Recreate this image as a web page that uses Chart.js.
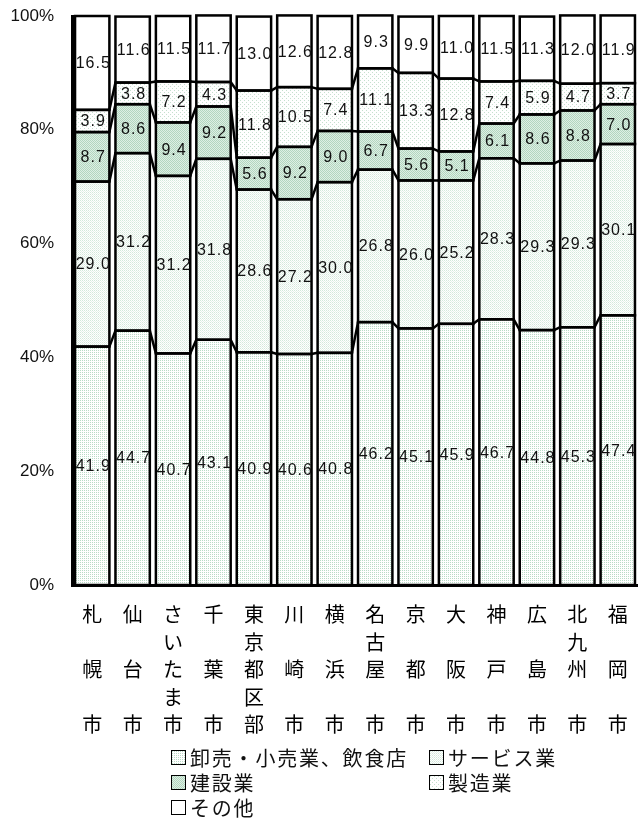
<!DOCTYPE html>
<html>
<head>
<meta charset="utf-8">
<script src="https://cdn.jsdelivr.net/npm/chart.js@4"></script>
<style>
  body { margin: 0; background: #fff; }
  #wrap { position: relative; width: 638px; height: 818px; }
  #legend { position: absolute; left: 0; top: 745px; width: 638px; }
  .li { position: absolute; height: 25px; display: flex; align-items: center;
        font: 20px "Noto Sans CJK JP", sans-serif; letter-spacing: 1.8px; color: #111; white-space: nowrap; }
  .sw { width: 13px; height: 13px; border: 1.5px solid #000; margin-right: 4px; }
</style>
</head>
<body>
<div id="wrap">
  <canvas id="c" width="638" height="745"></canvas>
  <div id="legend"></div>
</div>
<script>
// cities, one char per line (blank lines keep rows aligned)
const cities = [
    ['札','','幌','','市'], ['仙','','台','','市'], ['さ','い','た','ま','市'],
    ['千','','葉','','市'], ['東','京','都','区','部'], ['川','','崎','','市'],
    ['横','','浜','','市'], ['名','古','屋','','市'], ['京','','都','','市'],
    ['大','','阪','','市'], ['神','','戸','','市'], ['広','','島','','市'],
    ['北','九','州','','市'], ['福','','岡','','市']
]

const seriesNames = ['卸売・小売業、飲食店', 'サービス業', '建設業', '製造業', 'その他']

const wholesale    = [41.9, 44.7, 40.7, 43.1, 40.9, 40.6, 40.8, 46.2, 45.1, 45.9, 46.7, 44.8, 45.3, 47.4]
const service      = [29.0, 31.2, 31.2, 31.8, 28.6, 27.2, 30.0, 26.8, 26.0, 25.2, 28.3, 29.3, 29.3, 30.1]
const construction = [8.7, 8.6, 9.4, 9.2, 5.6, 9.2, 9.0, 6.7, 5.6, 5.1, 6.1, 8.6, 8.8, 7.0]
const manufacturing= [3.9, 3.8, 7.2, 4.3, 11.8, 10.5, 7.4, 11.1, 13.3, 12.8, 7.4, 5.9, 4.7, 3.7]
const others       = [16.5, 11.6, 11.5, 11.7, 13.0, 12.6, 12.8, 9.3, 9.9, 11.0, 11.5, 11.3, 12.0, 11.9]

const yTicks = [0, 20, 40, 60, 80, 100]

// dotted fills like the original
function tile(size, bg, dots){
    let t = document.createElement('canvas')
    t.width = size; t.height = size
    let g = t.getContext('2d')
    g.fillStyle = bg; g.fillRect(0, 0, size, size)
    for(let d of dots){
        g.fillStyle = d[2]; g.fillRect(d[0], d[1], 1, 1)
    }
    return t
}
const tiles = [
    tile(2, '#ffffff', [[0,0,'#b9dcc6']]),
    tile(2, '#ffffff', [[0,0,'#d3e9db'],[1,1,'#e6f2ea']]),
    tile(2, '#deefe4', [[0,0,'#b2d6bf'],[1,1,'#b2d6bf']]),
    tile(4, '#ffffff', [[0,0,'#c5e0ce'],[2,2,'#c5e0ce']]),
    tile(1, '#ffffff', [])
]
const ctx = document.getElementById('c').getContext('2d')
const fills = tiles.map(t => ctx.createPattern(t, 'repeat'))

const values = [wholesale, service, construction, manufacturing, others]

// bar outlines, series lines and value labels
const decorate = {
    id: 'decorate',
    afterDatasetsDraw(chart){
        let c = chart.ctx
        let metas = values.map((v, i) => chart.getDatasetMeta(i))
        c.save()
        c.strokeStyle = '#000'
        c.lineWidth = 2.5
        for(let m of metas){
            for(let el of m.data){
                let p = el.getProps(['x','y','base','width'], true)
                c.strokeRect(p.x - p.width/2, p.y, p.width, p.base - p.y)
            }
        }
        // series lines
        for(let d = 0; d < metas.length - 1; d++){
            let els = metas[d].data
            c.beginPath()
            for(let i = 0; i < els.length - 1; i++){
                let a = els[i].getProps(['x','y','width'], true)
                let b = els[i+1].getProps(['x','y','width'], true)
                c.moveTo(a.x + a.width/2, a.y)
                c.lineTo(b.x - b.width/2, b.y)
            }
            c.stroke()
        }
        c.fillStyle = '#111'
        c.font = '16px "Liberation Sans", Arial, sans-serif'
        c.letterSpacing = '1px'
        c.textAlign = 'center'
        c.textBaseline = 'middle'
        metas.forEach((m, d) => {
            m.data.forEach((el, i) => {
                let p = el.getProps(['x','y','base'], true)
                c.fillText(values[d][i].toFixed(1), p.x + 1, (p.y + p.base)/2 + 1)
            })
        })
        c.restore()
    }
}

const chart = new Chart(ctx, {
    type: 'bar',
    data: {
        labels: cities,
        datasets: values.map((v, i) => ({
            label: seriesNames[i],
            data: v,
            backgroundColor: fills[i],
            borderWidth: 0,
            barPercentage: 0.85,
            categoryPercentage: 1
        }))
    },
    options: {
        responsive: false,
        animation: false,
        devicePixelRatio: 1,
        layout: { padding: { top: 16, left: 0, right: 0, bottom: 0 } },
        plugins: { legend: { display: false }, tooltip: { enabled: false } },
        scales: {
            x: {
                stacked: true,
                grid: { display: false, drawTicks: false },
                border: { display: true, color: '#000', width: 3 },
                afterFit: s => { s.height = 160; s.paddingLeft = 0; s.paddingRight = 0 },
                ticks: {
                    autoSkip: false, maxRotation: 0, padding: 16, color: '#000',
                    font: { family: '"Noto Sans CJK JP"', size: 20, lineHeight: 1.375 }
                }
            },
            y: {
                stacked: true,
                min: 0, max: 100,
                afterFit: s => { s.width = 72; s.paddingTop = 0; s.paddingBottom = 0 },
                afterBuildTicks: s => { s.ticks = yTicks.map(v => ({ value: v })) },
                grid: { display: false, drawTicks: false },
                border: { display: true, color: '#000', width: 3 },
                ticks: {
                    padding: 18, color: '#111',
                    font: { family: '"Liberation Sans"', size: 17 },
                    callback: v => v + '%'
                }
            }
        }
    },
    plugins: [decorate]
})

// legend laid out like the original (2 columns)
const legendPos = [[171, 0], [429, 0], [171, 25], [429, 25], [171, 50]]
let lg = document.getElementById('legend')
seriesNames.forEach((n, i) => {
    let d = document.createElement('div')
    d.className = 'li'
    d.style.left = legendPos[i][0] + 'px'
    d.style.top = legendPos[i][1] + 'px'
    d.innerHTML = `<span class="sw" style="background-image:url(${tiles[i].toDataURL()})"></span>${n}`
    lg.appendChild(d)
})
</script>
</body>
</html>
